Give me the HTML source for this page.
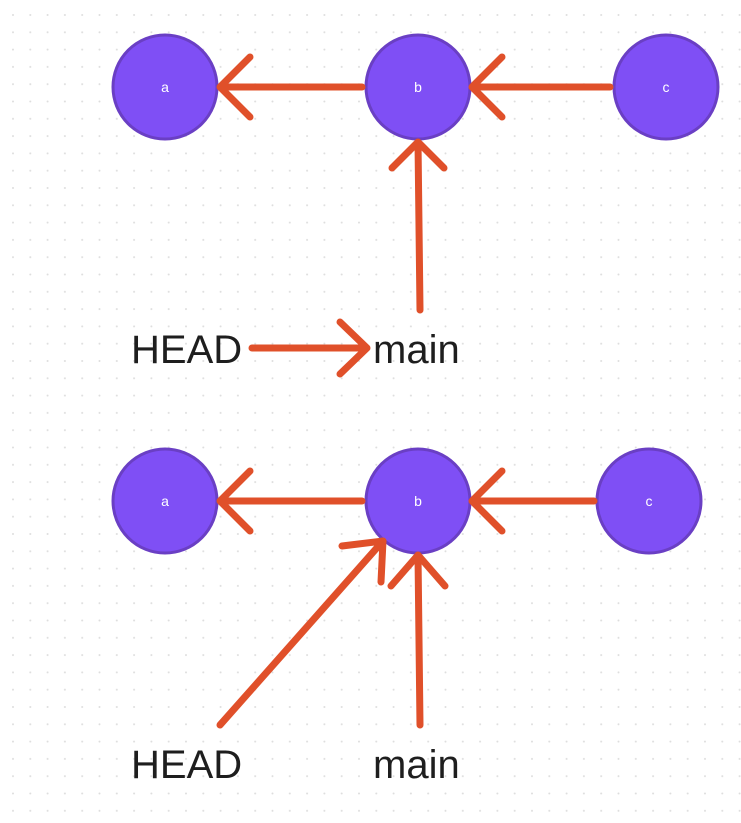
<!DOCTYPE html><html><head><style>body{margin:0;background:#fff}svg{display:block}</style></head><body>
<svg width="741" height="823" xmlns="http://www.w3.org/2000/svg">
<defs><pattern id="d" width="17.3" height="17.3" patternUnits="userSpaceOnUse" x="12" y="14"><circle cx="1" cy="1" r="1" fill="#ddd"/></pattern></defs>
<rect width="741" height="823" fill="url(#d)"/>
<g fill="#7f4ff5" stroke="#6a3fc4" stroke-width="3">
<circle cx="165" cy="87" r="52"/><circle cx="418" cy="87" r="52"/><circle cx="666" cy="87" r="52"/>
<circle cx="165" cy="501" r="52"/><circle cx="418" cy="501" r="52"/><circle cx="649" cy="501" r="52"/>
</g>
<g fill="#fff" font-family="Liberation Sans, sans-serif" font-size="14" text-anchor="middle">
<text x="165" y="92">a</text><text x="418" y="92">b</text><text x="666" y="92">c</text>
<text x="165" y="506">a</text><text x="418" y="506">b</text><text x="649" y="506">c</text>
</g>
<g stroke="#e0502a" stroke-width="7" stroke-linecap="round" stroke-linejoin="round" fill="none">
<path d="M362 87H220M250 57L220 87L250 117"/>
<path d="M610 87H472M502 57L472 87L502 117"/>
<path d="M420 310L418 142M392 168L418 142L444 168"/>
<path d="M252 348H367M340 322L367 348L340 374"/>
<path d="M362 501H220M250 471L220 501L250 531"/>
<path d="M594 501H472M502 471L472 501L502 531"/>
<path d="M220 725L383 541M342 546L383 541L381 582"/>
<path d="M420 725L418 555M391 586L418 555L445 586"/>
</g>
<g fill="#1e1e1e" font-family="Liberation Sans, sans-serif" font-size="40">
<text x="131" y="363">HEAD</text><text x="373" y="363">main</text>
<text x="131" y="778">HEAD</text><text x="373" y="778">main</text>
</g>
</svg>
</body></html>
